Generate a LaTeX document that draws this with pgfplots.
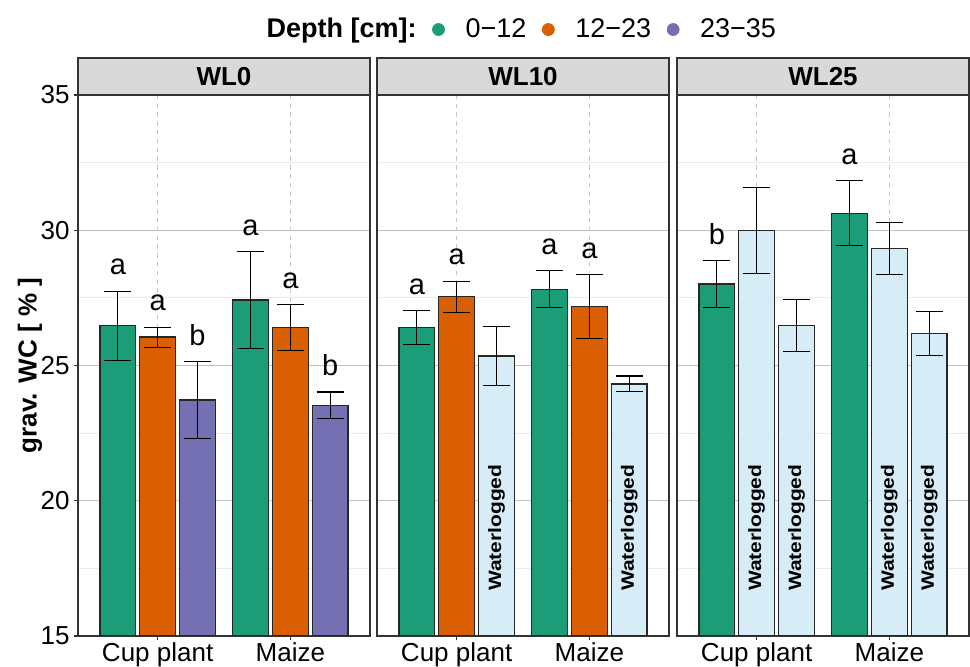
\documentclass[border=0pt]{standalone}
\usepackage{fontspec}
\setmainfont{Liberation Sans}
\usepackage{graphicx}
\usepackage{pgfplots}
\pgfplotsset{compat=1.18}
\definecolor{cG}{HTML}{1B9E77}
\definecolor{cO}{HTML}{D95F02}
\definecolor{cP}{HTML}{7570B3}
\definecolor{cB}{HTML}{D6ECF6}
\definecolor{stripc}{HTML}{D9D9D9}
\definecolor{framec}{HTML}{333333}
\definecolor{gmaj}{HTML}{C2C2C2}
\definecolor{gmin}{HTML}{EBEBEB}
\definecolor{gdash}{HTML}{C8C8C8}
\newcommand{\wl}{\scalebox{1}[0.85]{\fontsize{10.5}{12}\selectfont\bfseries Waterlogged}}
\pgfplotsset{
  panel/.style={
    scale only axis, width=146pt, height=270.5pt,
    xmin=0.4, xmax=2.6, ymin=15, ymax=35,
    xtick={1,2}, xticklabels={Cup plant, Maize},
    ytick={15,20,25,30,35},
    minor ytick={17.5,22.5,27.5,32.5},
    ymajorgrids, yminorgrids,
    major grid style={gmaj, line width=0.5pt},
    minor grid style={gmin, line width=0.5pt},
    tick align=outside, tick pos=left,
    major tick length=2pt, minor tick length=0pt,
    tick style={framec, line width=0.6pt},
    axis line style={framec, line width=0.6pt},
    ticklabel style={font=\fontsize{13}{15}\selectfont, text=black},
    /pgf/number format/assume math mode=true,
    xticklabel style={inner sep=1pt},
    yticklabel style={inner sep=2pt},
    clip mode=individual,
    every axis title/.style={at={(0.5,1)}, anchor=south, fill=stripc, draw=framec, line width=0.6pt, minimum width=146pt, minimum height=18.5pt, inner sep=0pt, outer sep=0pt, font=\fontsize{13}{15}\selectfont\bfseries},
  },
  mybar/.style={ybar, bar width=0.27, bar shift=0pt, draw=black!85, line width=0.65pt, fill=#1,
    error bars/y dir=both, error bars/y explicit,
    error bars/error bar style={black, line width=0.55pt},
    error bars/error mark options={rotate=90, mark size=6.8pt, line width=0.55pt, black}},
  letters/.style={draw=none, mark=none, nodes near coords, point meta=explicit symbolic,
    nodes near coords style={font=\fontsize{14.5}{16}\selectfont, inner sep=0pt, yshift=7.75pt, text=black}},
  dotleg/.style={legend image code/.code={\draw[##1, draw=none] plot coordinates {(0pt,0pt)};}},
}
\begin{document}
\begin{tikzpicture}
\path[use as bounding box] (0,0) rectangle (485pt,333.5pt);

% ---------------- WL0
\begin{axis}[panel, at={(39pt,15.5pt)}, anchor=south west, title={WL0}]
\draw[gdash, line width=0.5pt, dash pattern=on 2.2pt off 2.2pt] (axis cs:1,15) -- (axis cs:1,35);
\draw[gdash, line width=0.5pt, dash pattern=on 2.2pt off 2.2pt] (axis cs:2,15) -- (axis cs:2,35);
\addplot[mybar=cG] coordinates {(0.7,26.47) +- (0,1.28) (1.7,27.42) +- (0,1.79)};
\addplot[mybar=cO] coordinates {(1.0,26.05) +- (0,0.37) (2.0,26.41) +- (0,0.84)};
\addplot[mybar=cP] coordinates {(1.3,23.72) +- (0,1.42) (2.3,23.53) +- (0,0.49)};
\addplot[letters] coordinates {(0.7,27.75)[a] (1.0,26.42)[a] (1.3,25.14)[b] (1.7,29.21)[a] (2.0,27.25)[a] (2.3,24.02)[b]};
\end{axis}

% ---------------- WL10
\begin{axis}[panel, at={(188.5pt,15.5pt)}, anchor=south west, title={WL10}, yticklabel=\empty, ytick style={draw=none},
  legend style={at={(0.465,1.121)}, anchor=center, draw=none, fill=none, legend columns=-1,
    font=\fontsize{13.5}{15}\selectfont,
    /tikz/every odd column/.append style={column sep=8.5pt},
    /tikz/every even column/.append style={column sep=6pt}}]
\addlegendimage{empty legend}\addlegendentry{\textbf{Depth [cm]:}}
\addlegendimage{dotleg, only marks, mark=*, mark size=3pt, cG}\addlegendentry{0−12}
\addlegendimage{dotleg, only marks, mark=*, mark size=3pt, cO}\addlegendentry{12−23}
\addlegendimage{dotleg, only marks, mark=*, mark size=3pt, cP}\addlegendentry{23−35}
\draw[gdash, line width=0.5pt, dash pattern=on 2.2pt off 2.2pt] (axis cs:1,15) -- (axis cs:1,35);
\draw[gdash, line width=0.5pt, dash pattern=on 2.2pt off 2.2pt] (axis cs:2,15) -- (axis cs:2,35);
\addplot[mybar=cG] coordinates {(0.7,26.40) +- (0,0.64) (1.7,27.82) +- (0,0.68)};
\addplot[mybar=cO] coordinates {(1.0,27.54) +- (0,0.58) (2.0,27.17) +- (0,1.18)};
\addplot[mybar=cB] coordinates {(1.3,25.35) +- (0,1.09) (2.3,24.32) +- (0,0.29)};
\addplot[letters] coordinates {(0.7,27.03)[a] (1.0,28.12)[a] (1.7,28.49)[a] (2.0,28.35)[a]};
\node[rotate=90, inner sep=0pt] at (axis cs:1.3,19) {\wl};
\node[rotate=90, inner sep=0pt] at (axis cs:2.3,19) {\wl};
\end{axis}

% ---------------- WL25
\begin{axis}[panel, at={(338.5pt,15.5pt)}, anchor=south west, title={WL25}, yticklabel=\empty, ytick style={draw=none}]
\draw[gdash, line width=0.5pt, dash pattern=on 2.2pt off 2.2pt] (axis cs:1,15) -- (axis cs:1,35);
\draw[gdash, line width=0.5pt, dash pattern=on 2.2pt off 2.2pt] (axis cs:2,15) -- (axis cs:2,35);
\addplot[mybar=cG] coordinates {(0.7,28.01) +- (0,0.87) (1.7,30.63) +- (0,1.21)};
\addplot[mybar=cB] coordinates {(1.0,30.00) +- (0,1.59) (2.0,29.33) +- (0,0.96)};
\addplot[mybar=cB] coordinates {(1.3,26.47) +- (0,0.96) (2.3,26.19) +- (0,0.81)};
\addplot[letters] coordinates {(0.7,28.87)[b] (1.7,31.85)[a]};
\node[rotate=90, inner sep=0pt] at (axis cs:1.0,19) {\wl};
\node[rotate=90, inner sep=0pt] at (axis cs:1.3,19) {\wl};
\node[rotate=90, inner sep=0pt] at (axis cs:2.0,19) {\wl};
\node[rotate=90, inner sep=0pt] at (axis cs:2.3,19) {\wl};
\end{axis}

\node[rotate=90, font=\fontsize{13}{15}\selectfont\bfseries] at (15pt,150.75pt) {grav. WC [ \% ]};
\end{tikzpicture}
\end{document}
